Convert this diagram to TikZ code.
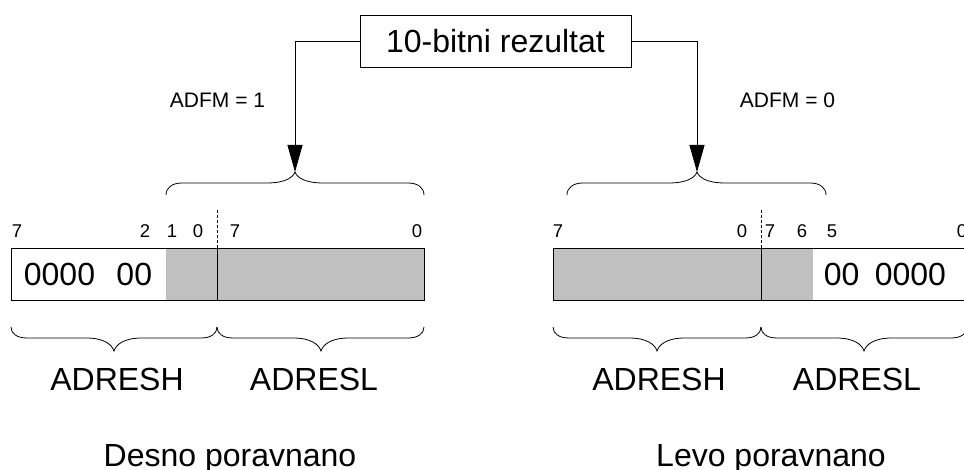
\documentclass[tikz,border=0pt]{standalone}
\usepackage{fontspec}
\setmainfont{Liberation Sans}
\usetikzlibrary{arrows.meta}
\definecolor{regGray}{RGB}{192,192,192}
\tikzset{
  ln/.style={line width=0.9pt, black},
  big/.style={font=\fontsize{32}{38}\selectfont, inner sep=0pt, anchor=base},
  mid/.style={font=\fontsize{21}{25}\selectfont, inner sep=0pt, anchor=base},
  bit/.style={font=\fontsize{18.5}{22}\selectfont, inner sep=0pt, anchor=base},
  conn/.style={ln, -{Triangle[length=27pt,width=15pt]}},
  titlebox/.style={draw, line width=0.9pt, minimum width=271pt, minimum height=51.5pt,
    inner sep=0pt, font=\fontsize{32}{38}\selectfont},
  dsh/.style={line width=0.8pt, dash pattern=on 3pt off 2pt},
}
% brace: x1 x2 xm yend yflat ytip
\newcommand\mybrc[6]{%
  \draw[line width=0.8pt] (#1,#4) .. controls (#1,{#4+0.6*(#5-#4)}) and ({#1+6},#5) .. ({#1+16},#5)
    -- ({#3-28},#5) .. controls ({#3-10},#5) and ({#3-2},{#5+0.5*(#6-#5)}) .. (#3,#6)
    .. controls ({#3+2},{#5+0.5*(#6-#5)}) and ({#3+10},#5) .. ({#3+28},#5)
    -- ({#2-16},#5) .. controls ({#2-6},#5) and (#2,{#4+0.6*(#5-#4)}) .. (#2,#4);}
\begin{document}
\begin{tikzpicture}[x=1pt,y=-1pt]
\useasboundingbox (0,0) rectangle (964,470);

% title and connectors
\node[titlebox] (title) at (495.5,41.25) {10-bitni rezultat};
\coordinate (t1) at (295,172);
\coordinate (t2) at (697,172);
\draw[conn] (title.west) -| (t1);
\draw[conn] (title.east) -| (t2);
\node[mid] (adfm1) at (217.5,108) {ADFM = 1};
\node[mid] (adfm0) at (787.5,108) {ADFM = 0};

% top braces
\mybrc{166}{424}{295}{195}{183}{172}
\mybrc{567}{826}{697}{195}{183}{172}

% left register
\fill[white] (11,248) rectangle (166,300);
\fill[regGray] (166,248) rectangle (424,300);
\draw[ln] (11,248) rectangle (424,300);
\draw[ln] (217,248) -- (217,300);
\draw[dsh] (217,210) -- (217,248);
\node[big, anchor=base west] (lz) at (23.7,286) {0000\hspace{0.67em}00};
\node[bit] (l7a) at (17,238) {7};
\node[bit] (l2) at (145,238) {2};
\node[bit] (l1) at (172,238) {1};
\node[bit] (l0a) at (198,238) {0};
\node[bit] (l7b) at (235,238) {7};
\node[bit] (l0b) at (417,238) {0};

% right register
\fill[regGray] (553,248) rectangle (813,300);
\fill[white] (813,248) rectangle (967,300);
\draw[ln] (553,248) rectangle (967,300);
\draw[ln] (761,248) -- (761,300);
\draw[dsh] (761,210) -- (761,248);
\node[big, anchor=base west] (rz) at (823.7,286) {00\hspace{0.48em}0000};
\node[bit] (r7a) at (558,238) {7};
\node[bit] (r0a) at (742,238) {0};
\node[bit] (r7b) at (770,238) {7};
\node[bit] (r6) at (802,238) {6};
\node[bit] (r5) at (832,238) {5};
\node[bit] (r0b) at (962,238) {0};

% bottom braces
\mybrc{11}{217}{114}{327}{338}{351}
\mybrc{217}{424}{321}{327}{338}{351}
\mybrc{553}{761}{657}{327}{338}{351}
\mybrc{761}{967}{864}{327}{338}{351}

% labels
\node[big] (lh) at (117,390) {ADRESH};
\node[big] (ll) at (314,390) {ADRESL};
\node[big] (rh) at (659,390) {ADRESH};
\node[big] (rl) at (857,390) {ADRESL};
\node[big] (desno) at (230,466) {Desno poravnano};
\node[big] (levo) at (771,466) {Levo poravnano};
\end{tikzpicture}
\end{document}
